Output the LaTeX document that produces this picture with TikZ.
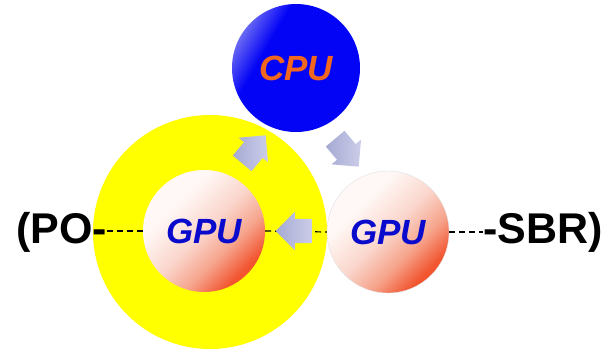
\documentclass[tikz,border=0pt]{standalone}
\usepackage{fontspec}
\setmainfont{Liberation Sans}
\usepackage{xcolor}
\usetikzlibrary{arrows.meta,positioning,calc,shapes.arrows}
\definecolor{ringyellow}{HTML}{FFFF00}
\definecolor{cpublue}{HTML}{0303F6}
\definecolor{cpulight}{HTML}{7070F4}
\definecolor{cpuorange}{HTML}{F2661E}
\definecolor{gpublue}{HTML}{0A0ACC}
\definecolor{gpulight}{HTML}{FFF8F6}
\definecolor{gpupink}{HTML}{FAD6CC}
\definecolor{gpumid}{HTML}{F6A48C}
\definecolor{gpudark}{HTML}{F25530}
\definecolor{flowlight}{HTML}{CBCDE8}
\definecolor{flowdark}{HTML}{A6AAD3}
\pgfdeclareverticalshading{gpushade}{100bp}{color(0bp)=(gpudark); color(27bp)=(gpudark);
  color(38bp)=(gpumid); color(50bp)=(gpupink); color(66bp)=(gpulight); color(100bp)=(gpulight)}
\pgfdeclareverticalshading{cpushade}{100bp}{color(0bp)=(cpublue); color(64bp)=(cpublue);
  color(76bp)=(cpulight); color(100bp)=(cpulight)}
\tikzset{
  cpunode/.style={circle,minimum size=128pt,inner sep=0pt,shading=cpushade,shading angle=60},
  gpunode/.style={circle,minimum size=122pt,inner sep=0pt,shading=gpushade,shading angle=45},
  unitlabel/.style={font=\fontsize{35}{35}\selectfont\bfseries\itshape,inner sep=0pt},
  endlabel/.style={font=\fontsize{43}{43}\selectfont\bfseries,inner sep=0pt},
  flowarrow/.style={single arrow,inner sep=12pt,single arrow head extend=7pt,
    minimum height=36pt,shade,left color=flowdark,right color=flowlight},
  chainline/.style={dashed,dash pattern=on 6pt off 4pt,line width=1.2pt}
}
\begin{document}
\begin{tikzpicture}[x=1pt,y=-1pt]
  \useasboundingbox (0,0) rectangle (606,349);
  \fill[ringyellow] (210,232) circle[radius=117];
  \node[gpunode] (gpuL) at (204,231) {};
  \node[gpunode,draw=black!12] (gpuR) at (388,232) {};
  \node[cpunode] (cpu) at (296,68) {};
  \node[endlabel,anchor=base east] (po) at (107,243) {(PO-};
  \node[endlabel,anchor=base west] (sbr) at (483,243) {-SBR)};
  \draw[chainline] (po.east |- gpuL) -- (gpuL.west);
  \draw[chainline] (gpuL.east) -- (gpuR.west);
  \draw[chainline] (gpuR.east) -- (sbr.west |- gpuR);
  \node[unitlabel,text=gpublue] (gpuLtext) at (gpuL) {GPU};
  \node[unitlabel,text=gpublue] (gpuRtext) at (gpuR) {GPU};
  \node[unitlabel,text=cpuorange] (cputext) at (cpu) {CPU};
  \node[flowarrow,rotate=180] (toL) at (300,231) {};
  \node[flowarrow,rotate=50] (toC) at (250,154) {};
  \node[flowarrow,rotate=-50] (toR) at (343,148) {};
\end{tikzpicture}
\end{document}
